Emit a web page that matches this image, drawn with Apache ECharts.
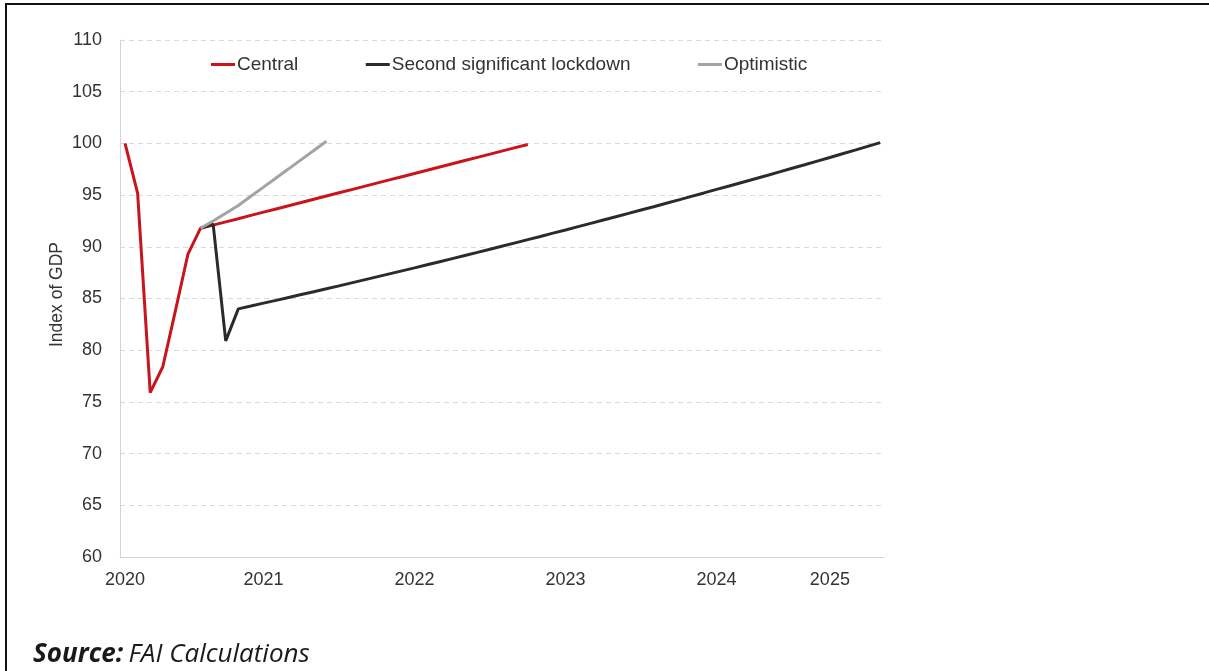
<!DOCTYPE html>
<html>
<head>
<meta charset="utf-8">
<script src="https://cdn.jsdelivr.net/npm/echarts@6/dist/echarts.min.js"></script>
<style>
html,body{margin:0;padding:0;background:#fff;}
#chart{width:1209px;height:671px;}
</style>
</head>
<body>
<div id="chart"></div>
<script>
// Period index (monthly steps from start of 2020)
const periods = [0,1,2,3,4,5,6,7,8,9,10,11,12,13,14,15,16,17,18,19,20,21,22,23,24,25,26,27,28,29,30,
  31,32,33,34,35,36,37,38,39,40,41,42,43,44,45,46,47,48,49,50,51,52,53,54,55,56,57,58,59,60];

// X tick labels and the period they sit at
const xTickLabels = ['2020','2021','2022','2023','2024','2025'];
const xTickPeriods = [0, 11, 23, 35, 47, 56];

const seriesNames = ['Central', 'Second significant lockdown', 'Optimistic'];

const central = [100.0, 95.2, 75.9, 78.4, 83.8, 89.3, 91.8,
  92.10, 92.41, 92.72, 93.04, 93.35, 93.66, 93.97, 94.28, 94.60, 94.91,
  95.22, 95.53, 95.84, 96.16, 96.47, 96.78, 97.09, 97.40, 97.72, 98.03,
  98.34, 98.65, 98.96, 99.28, 99.59, 99.90];

const lockdown = [null, null, null, null, null, null, 91.8,
  92.2, 80.9, 84.00, 84.27, 84.55, 84.82, 85.10, 85.38, 85.66, 85.94,
  86.22, 86.51, 86.80, 87.09, 87.38, 87.67, 87.96, 88.26, 88.56, 88.86,
  89.16, 89.46, 89.77, 90.07, 90.38, 90.69, 91.00, 91.32, 91.63, 91.95,
  92.27, 92.59, 92.91, 93.23, 93.56, 93.88, 94.21, 94.54, 94.88, 95.21,
  95.55, 95.88, 96.22, 96.56, 96.90, 97.25, 97.60, 97.94, 98.29, 98.64,
  99.00, 99.35, 99.71, 100.07];

const optimistic = [null, null, null, null, null, null, 91.8,
  92.5, 93.25, 94.0, 94.89, 95.77, 96.66, 97.54, 98.43, 99.31, 100.2];

const colors = ['#c8141a', '#2b2b2b', '#a3a3a3'];

function pairs(arr) {
  return arr.map((v, i) => [periods[i], v]);
}

const chart = echarts.init(document.getElementById('chart'), null, {renderer: 'canvas'});

const font = '"Liberation Sans", Arial, sans-serif';

const option = {
  animation: false,
  backgroundColor: '#ffffff',
  color: colors,
  grid: {left: 120, right: 325, top: 40, bottom: 114, containLabel: false},
  legend: {
    data: seriesNames,
    left: 206,
    top: 50,
    icon: 'rect',
    itemWidth: 24,
    itemHeight: 3,
    itemGap: 67.5,
    textStyle: {fontFamily: font, fontSize: 19, color: '#333333', padding: [0, 0, 0, -3]}
  },
  xAxis: {
    type: 'value',
    min: -0.4,
    max: 60.3,
    axisLine: {show: true, onZero: false, lineStyle: {color: '#d4d4d4', width: 1}},
    axisTick: {show: false},
    splitLine: {show: false},
    axisLabel: {
      customValues: xTickPeriods,
      margin: 14,
      fontFamily: font,
      fontSize: 18,
      color: '#333333',
      formatter: function (v) {
        const k = xTickPeriods.indexOf(Math.round(v));
        return k >= 0 ? xTickLabels[k] : '';
      }
    }
  },
  yAxis: {
    type: 'value',
    min: 60,
    max: 110,
    interval: 5,
    name: 'Index of GDP',
    nameLocation: 'middle',
    nameRotate: 90,
    nameGap: 54,
    nameMoveOverlap: false,
    nameTextStyle: {fontFamily: font, fontSize: 17.5, color: '#333333', padding: [0, 0, 0, 8]},
    axisLine: {show: true, onZero: false, lineStyle: {color: '#d4d4d4', width: 1}},
    axisTick: {show: false},
    axisLabel: {margin: 18, fontFamily: font, fontSize: 18, color: '#333333'},
    splitLine: {show: true, lineStyle: {color: '#d9d9d9', type: [5, 4], width: 1}}
  },
  series: [
    {name: seriesNames[0], type: 'line', data: pairs(central), showSymbol: false, symbol: 'none',
     lineStyle: {width: 3, color: colors[0]}, itemStyle: {color: colors[0]}, z: 2},
    {name: seriesNames[1], type: 'line', data: pairs(lockdown), showSymbol: false, symbol: 'none',
     lineStyle: {width: 3, color: colors[1]}, itemStyle: {color: colors[1]}, z: 3},
    {name: seriesNames[2], type: 'line', data: pairs(optimistic), showSymbol: false, symbol: 'none',
     lineStyle: {width: 3, color: colors[2]}, itemStyle: {color: colors[2]}, z: 4}
  ],
  graphic: [
    {type: 'line', shape: {x1: 5, y1: 4, x2: 1209, y2: 4}, style: {stroke: '#111', lineWidth: 2}, silent: true},
    {type: 'line', shape: {x1: 6, y1: 4, x2: 6, y2: 671}, style: {stroke: '#111', lineWidth: 2}, silent: true},
    {
      type: 'text', left: 33, top: 642, silent: true,
      style: {
        text: '{b|Source:} {i|FAI Calculations}',
        rich: {
          b: {fontFamily: '"Open Sans", sans-serif', fontSize: 26, fontWeight: 'bold', fontStyle: 'italic', fill: '#1a1a1a', padding: [0, 2, 0, 0]},
          i: {fontFamily: '"Open Sans", sans-serif', fontSize: 26, fontStyle: 'italic', fill: '#1a1a1a'}
        }
      }
    }
  ]
};

chart.setOption(option);
</script>
</body>
</html>
